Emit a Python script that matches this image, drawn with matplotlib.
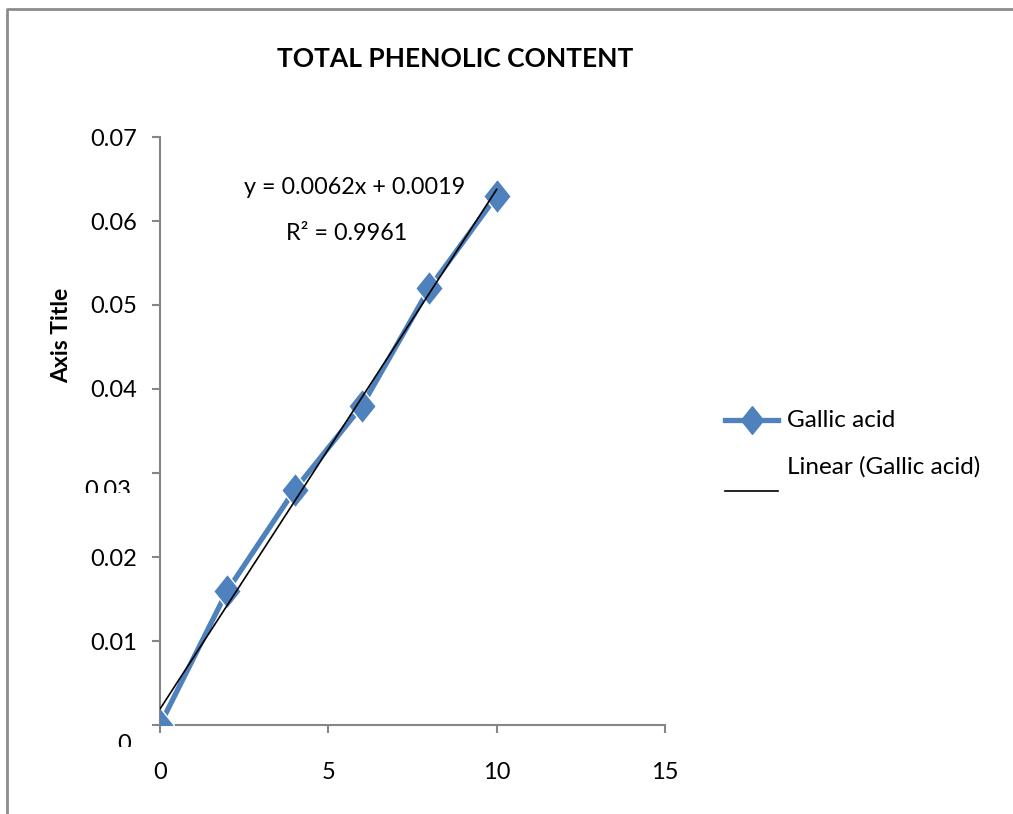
import numpy as np
import matplotlib

matplotlib.use("Agg")
import matplotlib.pyplot as plt
from matplotlib.lines import Line2D
from matplotlib.transforms import Bbox, TransformedBbox, blended_transform_factory, ScaledTranslation

plt.rcParams["font.family"] = ["Lato", "DejaVu Sans"]

# ---- data ----
conc = [0, 2, 4, 6, 8, 10]
absorb = [0.0, 0.016, 0.028, 0.038, 0.052, 0.063]
x_ticks = [0, 5, 10, 15]
y_ticks = [0, 0.01, 0.02, 0.03, 0.04, 0.05, 0.06, 0.07]
y_labels = ["0", "0.01", "0.02", "0.03", "0.04", "0.05", "0.06", "0.07"]
series_name = "Gallic acid"

blue = "#4F81BD"
grey = "#868686"
W, H = 1013, 814

fig = plt.figure(figsize=(W / 100, H / 100), dpi=100)
ax = fig.add_axes([160 / W, 1 - 725 / H, 505 / W, 588 / H])

# diamond a bit taller than wide, like Excel
diamond = [(0, 1), (0.8, 0), (0, -1), (-0.8, 0), (0, 1)]

ax.plot(conc, absorb, color=blue, lw=3.8, solid_capstyle="round", zorder=3)
ax.plot(conc, absorb, lw=0, marker=diamond, ms=25, mfc=blue, mec="white",
        mew=1.0, zorder=3.5)

# linear trendline
slope, icpt = np.polyfit(conc, absorb, 1)
pred = slope * np.array(conc) + icpt
r2 = 1 - np.sum((np.array(absorb) - pred) ** 2) / np.sum((np.array(absorb) - np.mean(absorb)) ** 2)
xs = np.array([conc[0], conc[-1]])
ax.plot(xs, slope * xs + icpt, color="black", lw=1.2, zorder=4)

fig.text(355 / W, 1 - 188 / H, f"y = {slope:.4f}x + {icpt:.4f}", fontsize=16.8,
         ha="center", va="center")
fig.text(347 / W, 1 - 233 / H, f"R² = {r2:.4f}", fontsize=16.8, ha="center", va="center")

ax.set_xlim(0, 15)
ax.set_ylim(0, 0.07)
ax.set_xticks(x_ticks)
ax.set_xticklabels([str(t) for t in x_ticks])
ax.set_yticks(y_ticks)
# "0" and "0.03" are drawn separately below (they are shifted and cut in the original)
ax.set_yticklabels(["" if l in ("0", "0.03") else l for l in y_labels])

for side in ("top", "right"):
    ax.spines[side].set_visible(False)
for side in ("left", "bottom"):
    ax.spines[side].set_color(grey)
    ax.spines[side].set_linewidth(1.5)
ax.tick_params(axis="both", direction="out", length=5.5, width=1.5, color=grey,
               labelsize=17, labelcolor="black")
ax.tick_params(axis="y", pad=11)
ax.tick_params(axis="x", pad=21)

# clipped labels
trans = blended_transform_factory(fig.transFigure, ax.transData)
for lab, yv, off, cut in [("0.03", 0.03, 17.5, 493), ("0", 0.0, 19.5, 747)]:
    t = ax.text(131 / W, yv, lab, fontsize=17, ha="right", va="center",
                transform=trans + ScaledTranslation(0, -off / 100, fig.dpi_scale_trans))
    t.set_clip_box(TransformedBbox(Bbox([[0, 1 - cut / H], [1, 1]]), fig.transFigure))
    t.set_clip_on(True)

fig.text(62 / W, 1 - 335 / H, "Axis Title", rotation=90, fontsize=16.5,
         fontweight="bold", ha="center", va="center")
fig.text(455 / W, 1 - 59 / H, "TOTAL PHENOLIC CONTENT", fontsize=19,
         fontweight="bold", ha="center", va="center")

# legend (drawn by hand, the second entry has its line under the text)
fig.add_artist(Line2D([725 / W, 778 / W], [1 - 420 / H] * 2, color=blue, lw=3.8))
fig.add_artist(Line2D([751.5 / W], [1 - 420 / H], color=blue, marker=diamond, ms=20,
                      mec=blue, mfc=blue, lw=0))
fig.text(787 / W, 1 - 420 / H, series_name, fontsize=17.5, ha="left", va="center")
fig.text(787 / W, 1 - 467 / H, f"Linear ({series_name})", fontsize=17.5,
         ha="left", va="center")
fig.add_artist(Line2D([725 / W, 778 / W], [1 - 491 / H] * 2, color="black", lw=1.2))

# chart frame, runs off the right and bottom edges
fig.add_artist(Line2D([7 / W, 7 / W, 1.01], [-0.01, 1 - 9 / H, 1 - 9 / H],
                      color="#8c8c8c", lw=2))

fig.savefig("out.png", dpi=100)
